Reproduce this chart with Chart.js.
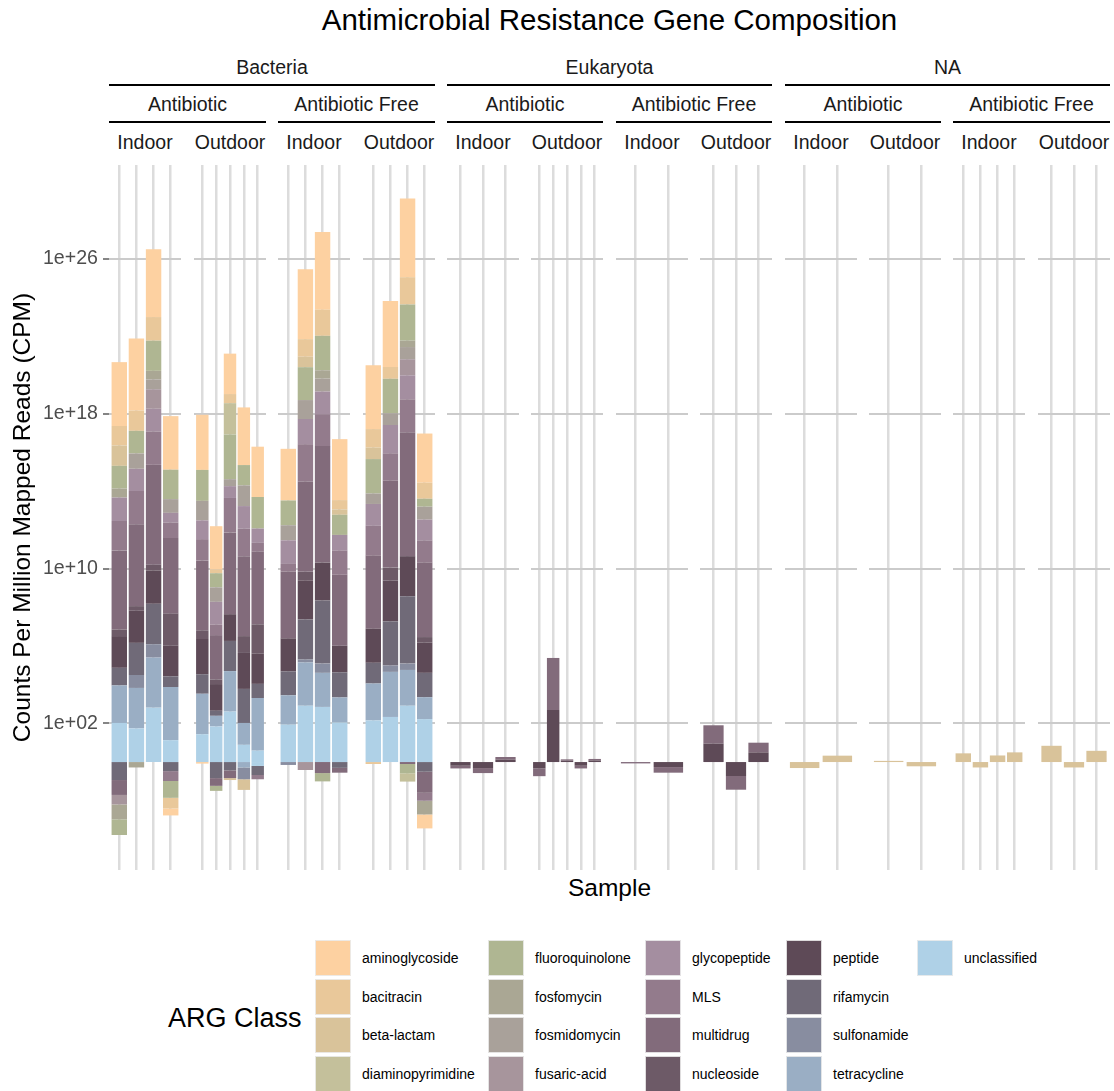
<!DOCTYPE html>
<html>
<head>
<meta charset="utf-8">
<script src="https://cdn.jsdelivr.net/npm/chart.js@4.4.1/dist/chart.umd.min.js"></script>
<style>
    body { margin: 0; background: #fff; font-family: "Liberation Sans", Arial, sans-serif; }
    #page { position: relative; width: 1114px; height: 1091px; overflow: hidden; background: #fff; }
    .txt { position: absolute; white-space: nowrap; text-align: center; }
    .strip { font-size: 19.5px; line-height: 19.5px; color: #1a1a1a; }
    .strip-line { position: absolute; height: 2px; background: #000; }
    #title { font-size: 29.5px; line-height: 29.5px; color: #000; }
    #xtitle { font-size: 24.5px; line-height: 24.5px; color: #000; }
    #legendTitle { position: absolute; left: 168px; top: 1005px; font-size: 27px; line-height: 27px; color: #000; }
    #legend { position: absolute; left: 315px; top: 940px; display: grid; grid-auto-flow: column;
              grid-template-rows: repeat(4, 38.6px); grid-template-columns: 173px 157px 141px 131px 150px; }
    .key { display: flex; align-items: center; height: 36px; }
    .swatch { width: 36px; height: 36px; box-sizing: border-box; border: 1px solid rgba(235, 235, 235, 0.9); }
    .key span { margin-left: 11px; font-size: 14px; color: #000; }
</style>
</head>
<body>
<div id="page">
    <div id="title" class="txt">Antimicrobial Resistance Gene Composition</div>
    <div id="xtitle" class="txt">Sample</div>
    <div id="legendTitle">ARG Class</div>
    <div id="legend"></div>
</div>
<script>
// ARG classes in legend order (first one sits on top of each stack)
const argClasses = ['aminoglycoside', 'bacitracin', 'beta-lactam', 'diaminopyrimidine', 'fluoroquinolone',
    'fosfomycin', 'fosmidomycin', 'fusaric-acid', 'glycopeptide', 'MLS', 'multidrug', 'nucleoside',
    'peptide', 'rifamycin', 'sulfonamide', 'tetracycline', 'unclassified'];
const classColors = ['#FDD1A1', '#E9C89A', '#D9C39A', '#C4C09B', '#AFB692',
    '#AAA794', '#A9A19A', '#A7959C', '#A48EA0', '#937B8C', '#826B7B', '#6D5A67',
    '#5E4A57', '#706A78', '#888DA0', '#9AAEC4', '#AFD1E7'];

// facet levels
const kingdoms = ['Bacteria', 'Eukaryota', 'NA'];
const treatments = ['Antibiotic', 'Antibiotic Free'];
const locations = ['Indoor', 'Outdoor'];

// which panel (0..11) each sample belongs to
const samplePanel = [0, 0, 0, 0, 1, 1, 1, 1, 1, 2, 2, 2, 2, 3, 3, 3, 3,
    4, 4, 4, 5, 5, 5, 5, 5, 6, 6, 7, 7, 7,
    8, 8, 9, 9, 10, 10, 10, 10, 11, 11, 11];

// y ticks (log10 CPM)
const yTickLogs = [2, 10, 18, 26];
const yTickLabels = ['1e+02', '1e+10', '1e+18', '1e+26'];

// log10(CPM) per sample and class, columns follow argClasses; values above 1 CPM
const posLog = [
    // Bacteria / Antibiotic / Indoor
    [3.30, 1.01, 1.05, 0, 1.17, 0.47, 0, 0, 1.21, 1.52, 4.09, 0.34, 1.64, 0.91, 0, 1.94, 2.02],
    [3.72, 1.05, 0, 0, 1.17, 0, 0.79, 0, 1.15, 1.72, 4.23, 0.24, 1.66, 1.66, 0.67, 2.09, 1.74],
    [3.50, 1.22, 0, 0, 1.56, 0.44, 0.51, 1.01, 1.17, 1.73, 5.16, 0.30, 1.72, 2.09, 0.69, 2.59, 2.81],
    [2.77, 0, 0, 0, 1.52, 0, 0.71, 0, 0.51, 0.79, 3.91, 1.66, 1.58, 0.55, 0, 2.75, 1.13],
    // Bacteria / Antibiotic / Outdoor
    [2.85, 0, 0, 0, 1.60, 0, 1.01, 0, 0.97, 1.11, 3.60, 0.45, 1.82, 1.01, 0, 2.09, 1.44],
    [2.23, 0.20, 0, 0, 0.73, 0, 0.75, 0, 1.17, 0.55, 2.29, 0.24, 1.38, 0.26, 0, 0.55, 1.84],
    [2.09, 0.47, 0, 1.62, 2.31, 0, 0.36, 0, 0.61, 1.78, 4.23, 0, 1.38, 1.56, 0, 2.09, 2.61],
    [2.98, 0, 0, 0, 1.05, 0, 1.07, 0, 1.17, 1.42, 4.13, 0.87, 1.86, 1.76, 0, 1.13, 0.89],
    [2.60, 0, 0, 0, 1.63, 0, 0, 0, 0.74, 0.45, 3.76, 1.52, 1.56, 0.73, 0, 2.72, 0.59],
    // Bacteria / Antibiotic Free / Indoor
    [2.67, 0, 0, 0, 1.28, 0, 0.78, 0, 1.22, 0.39, 3.46, 0, 1.70, 1.24, 0, 1.52, 1.93],
    [3.61, 0.91, 0.54, 0, 1.70, 0, 0.98, 0, 1.30, 1.93, 4.67, 0.46, 2.00, 2.07, 0.15, 2.24, 2.91],
    [4.02, 1.35, 0, 0, 1.78, 0.43, 0.67, 0, 1.17, 1.65, 6.02, 0, 1.96, 3.26, 0.48, 1.76, 2.85],
    [3.15, 0.48, 0.28, 0, 1.04, 0, 0, 0, 0.80, 1.26, 3.67, 0, 1.37, 1.30, 0, 1.30, 2.04],
    // Bacteria / Antibiotic Free / Outdoor
    [3.30, 0.96, 0.59, 0, 1.78, 0, 0.54, 0, 1.13, 1.54, 3.78, 0, 1.76, 1.07, 0, 1.91, 2.15],
    [3.41, 0.61, 0, 0, 1.78, 0, 0.61, 0, 1.46, 1.41, 4.50, 0.67, 2.11, 2.28, 0.33, 2.33, 2.33],
    [4.07, 1.41, 0, 0, 1.87, 0.33, 0.63, 0.83, 1.24, 1.70, 6.41, 0, 2.07, 3.48, 0.33, 1.85, 2.91],
    [2.54, 0.83, 0, 0, 0.41, 0, 0.67, 0, 1.07, 1.15, 3.85, 0.28, 1.57, 1.26, 0, 1.13, 2.22],
    // Eukaryota / Antibiotic / Indoor
    [0, 0, 0, 0, 0, 0, 0, 0, 0, 0, 0, 0, 0, 0, 0, 0, 0],
    [0, 0, 0, 0, 0, 0, 0, 0, 0, 0, 0, 0, 0, 0, 0, 0, 0],
    [0, 0, 0, 0, 0, 0, 0, 0, 0, 0, 0.14, 0, 0.12, 0, 0, 0, 0],
    // Eukaryota / Antibiotic / Outdoor
    [0, 0, 0, 0, 0, 0, 0, 0, 0, 0, 0, 0, 0, 0, 0, 0, 0],
    [0, 0, 0, 0, 0, 0, 0, 0, 0, 0, 2.69, 0, 2.69, 0, 0, 0, 0],
    [0, 0, 0, 0, 0, 0, 0, 0, 0, 0, 0.07, 0, 0.07, 0, 0, 0, 0],
    [0, 0, 0, 0, 0, 0, 0, 0, 0, 0, 0, 0, 0, 0, 0, 0, 0],
    [0, 0, 0, 0, 0, 0, 0, 0, 0, 0, 0.08, 0, 0.08, 0, 0, 0, 0],
    // Eukaryota / Antibiotic Free / Indoor
    [0, 0, 0, 0, 0, 0, 0, 0, 0, 0, 0, 0, 0, 0, 0, 0, 0],
    [0, 0, 0, 0, 0, 0, 0, 0, 0, 0, 0, 0, 0, 0, 0, 0, 0],
    // Eukaryota / Antibiotic Free / Outdoor
    [0, 0, 0, 0, 0, 0, 0, 0, 0, 0, 0.95, 0, 0.95, 0, 0, 0, 0],
    [0, 0, 0, 0, 0, 0, 0, 0, 0, 0, 0, 0, 0, 0, 0, 0, 0],
    [0, 0, 0, 0, 0, 0, 0, 0, 0, 0, 0.50, 0, 0.50, 0, 0, 0, 0],
    // NA / Antibiotic / Indoor
    [0, 0, 0, 0, 0, 0, 0, 0, 0, 0, 0, 0, 0, 0, 0, 0, 0],
    [0, 0, 0.33, 0, 0, 0, 0, 0, 0, 0, 0, 0, 0, 0, 0, 0, 0],
    // NA / Antibiotic / Outdoor
    [0, 0, 0.06, 0, 0, 0, 0, 0, 0, 0, 0, 0, 0, 0, 0, 0, 0],
    [0, 0, 0, 0, 0, 0, 0, 0, 0, 0, 0, 0, 0, 0, 0, 0, 0],
    // NA / Antibiotic Free / Indoor
    [0, 0, 0.45, 0, 0, 0, 0, 0, 0, 0, 0, 0, 0, 0, 0, 0, 0],
    [0, 0, 0, 0, 0, 0, 0, 0, 0, 0, 0, 0, 0, 0, 0, 0, 0],
    [0, 0, 0.34, 0, 0, 0, 0, 0, 0, 0, 0, 0, 0, 0, 0, 0, 0],
    [0, 0, 0.50, 0, 0, 0, 0, 0, 0, 0, 0, 0, 0, 0, 0, 0, 0],
    // NA / Antibiotic Free / Outdoor
    [0, 0, 0.84, 0, 0, 0, 0, 0, 0, 0, 0, 0, 0, 0, 0, 0, 0],
    [0, 0, 0, 0, 0, 0, 0, 0, 0, 0, 0, 0, 0, 0, 0, 0, 0],
    [0, 0, 0.58, 0, 0, 0, 0, 0, 0, 0, 0, 0, 0, 0, 0, 0, 0],
];

// log10(CPM) below 1 CPM (negative stack), same layout
const negLog = [
    // Bacteria / Antibiotic / Indoor
    [0, 0, 0, 0, -0.81, -0.77, 0, -0.49, 0, 0, -0.77, 0, 0, -0.93, 0, 0, 0],
    [0, 0, 0, 0, 0, -0.28, 0, 0, 0, 0, 0, 0, 0, 0, 0, 0, 0],
    [0, 0, 0, 0, 0, 0, 0, 0, 0, 0, 0, 0, 0, 0, 0, 0, 0],
    [-0.36, -0.55, 0, 0, -0.87, 0, 0, 0, 0, -0.51, 0, 0, 0, -0.47, 0, 0, 0],
    // Bacteria / Antibiotic / Outdoor
    [-0.08, 0, 0, 0, 0, 0, 0, 0, 0, 0, 0, 0, 0, 0, 0, 0, 0],
    [0, 0, 0, 0, -0.26, 0, 0, 0, 0, 0, -0.40, 0, 0, -0.83, 0, 0, 0],
    [0, 0, -0.10, 0, 0, 0, 0, 0, 0, 0, -0.40, 0, 0, -0.43, 0, 0, 0],
    [0, 0, -0.55, 0, 0, 0, 0, 0, 0, 0, 0, 0, 0, 0, -0.61, -0.28, 0],
    [0, 0, 0, 0, 0, 0, 0, 0, 0, -0.22, 0, 0, 0, -0.47, 0, 0, -0.20],
    // Bacteria / Antibiotic Free / Indoor
    [0, 0, 0, 0, 0, 0, 0, 0, 0, 0, 0, 0, 0, 0, -0.15, 0, 0],
    [0, 0, 0, 0, 0, 0, 0, -0.41, 0, 0, 0, 0, 0, 0, 0, 0, 0],
    [0, 0, 0, 0, -0.43, 0, 0, 0, 0, 0, -0.57, 0, 0, 0, 0, 0, 0],
    [0, 0, 0, 0, 0, 0, 0, 0, 0, 0, -0.25, 0, 0, -0.30, 0, 0, 0],
    // Bacteria / Antibiotic Free / Outdoor
    [0, -0.10, 0, 0, 0, 0, 0, 0, 0, 0, 0, 0, 0, 0, 0, 0, 0],
    [0, 0, 0, 0, 0, 0, 0, 0, 0, 0, 0, 0, 0, 0, 0, 0, 0],
    [0, 0, 0, -0.43, -0.48, 0, 0, 0, 0, 0, -0.10, 0, 0, 0, 0, 0, 0],
    [-0.72, 0, 0, 0, 0, -0.71, 0, 0, 0, -0.41, -1.09, 0, 0, -0.50, 0, 0, 0],
    // Eukaryota / Antibiotic / Indoor
    [0, 0, 0, 0, 0, 0, 0, 0, 0, 0, -0.14, 0, -0.19, 0, 0, 0, 0],
    [0, 0, 0, 0, 0, 0, 0, 0, 0, 0, -0.26, 0, -0.31, 0, 0, 0, 0],
    [0, 0, 0, 0, 0, 0, 0, 0, 0, 0, 0, 0, 0, 0, 0, 0, 0],
    // Eukaryota / Antibiotic / Outdoor
    [0, 0, 0, 0, 0, 0, 0, 0, 0, 0, -0.40, 0, -0.33, 0, 0, 0, 0],
    [0, 0, 0, 0, 0, 0, 0, 0, 0, 0, 0, 0, 0, 0, 0, 0, 0],
    [0, 0, 0, 0, 0, 0, 0, 0, 0, 0, 0, 0, 0, 0, 0, 0, 0],
    [0, 0, 0, 0, 0, 0, 0, 0, 0, 0, -0.14, 0, -0.19, 0, 0, 0, 0],
    [0, 0, 0, 0, 0, 0, 0, 0, 0, 0, 0, 0, 0, 0, 0, 0, 0],
    // Eukaryota / Antibiotic Free / Indoor
    [0, 0, 0, 0, 0, 0, 0, 0, 0, 0, -0.07, 0, 0, 0, 0, 0, 0],
    [0, 0, 0, 0, 0, 0, 0, 0, 0, 0, -0.29, 0, -0.26, 0, 0, 0, 0],
    // Eukaryota / Antibiotic Free / Outdoor
    [0, 0, 0, 0, 0, 0, 0, 0, 0, 0, 0, 0, 0, 0, 0, 0, 0],
    [0, 0, 0, 0, 0, 0, 0, 0, 0, 0, -0.71, 0, -0.72, 0, 0, 0, 0],
    [0, 0, 0, 0, 0, 0, 0, 0, 0, 0, 0, 0, 0, 0, 0, 0, 0],
    // NA / Antibiotic / Indoor
    [0, 0, -0.31, 0, 0, 0, 0, 0, 0, 0, 0, 0, 0, 0, 0, 0, 0],
    [0, 0, 0, 0, 0, 0, 0, 0, 0, 0, 0, 0, 0, 0, 0, 0, 0],
    // NA / Antibiotic / Outdoor
    [0, 0, 0, 0, 0, 0, 0, 0, 0, 0, 0, 0, 0, 0, 0, 0, 0],
    [0, 0, -0.22, 0, 0, 0, 0, 0, 0, 0, 0, 0, 0, 0, 0, 0, 0],
    // NA / Antibiotic Free / Indoor
    [0, 0, 0, 0, 0, 0, 0, 0, 0, 0, 0, 0, 0, 0, 0, 0, 0],
    [0, 0, -0.28, 0, 0, 0, 0, 0, 0, 0, 0, 0, 0, 0, 0, 0, 0],
    [0, 0, 0, 0, 0, 0, 0, 0, 0, 0, 0, 0, 0, 0, 0, 0, 0],
    [0, 0, 0, 0, 0, 0, 0, 0, 0, 0, 0, 0, 0, 0, 0, 0, 0],
    // NA / Antibiotic Free / Outdoor
    [0, 0, 0, 0, 0, 0, 0, 0, 0, 0, 0, 0, 0, 0, 0, 0, 0],
    [0, 0, -0.28, 0, 0, 0, 0, 0, 0, 0, 0, 0, 0, 0, 0, 0, 0],
    [0, 0, 0, 0, 0, 0, 0, 0, 0, 0, 0, 0, 0, 0, 0, 0, 0],
];

// layout
const panelWidth = 72;
const panelTop = 165;
const panelHeight = 705;
const axisWidth = 109;
const yMin = -5.58, yMax = 30.86;
const panelLeft = [];
for (let i = 0; i < 12; i++) panelLeft.push(Math.round(109.3 + i * 84.4));

Chart.defaults.font.family = '"Liberation Sans", Arial, sans-serif';

const page = document.getElementById('page');

function addText(cls, text, left, width, top) {
    const el = document.createElement('div');
    el.className = 'txt ' + cls;
    el.textContent = text;
    el.style.left = left + 'px';
    el.style.width = width + 'px';
    el.style.top = top + 'px';
    page.appendChild(el);
}

function addLine(left, width, top) {
    const el = document.createElement('div');
    el.className = 'strip-line';
    el.style.left = left + 'px';
    el.style.width = width + 'px';
    el.style.top = top + 'px';
    page.appendChild(el);
}

function panelChart(target, p, withAxis) {
    const rows = [];
    samplePanel.forEach((sp, r) => { if (sp === p) rows.push(r); });

    const datasets = [];
    // unclassified first so it sits next to 1e+00
    for (let c = argClasses.length - 1; c >= 0; c--) {
        [posLog, negLog].forEach(table => {
            datasets.push({
                label: argClasses[c],
                data: rows.map((r, i) => ({ x: i, y: table[r][c] || null })),
                backgroundColor: classColors[c],
                borderWidth: 0,
                barPercentage: 0.9,
                categoryPercentage: 1,
            });
        });
    }

    return new Chart(target, {
        type: 'bar',
        data: { datasets: datasets },
        options: {
            responsive: false,
            animation: false,
            layout: { padding: 0 },
            plugins: { legend: { display: false }, tooltip: { enabled: false } },
            scales: {
                x: {
                    type: 'linear',
                    stacked: true,
                    offset: false,
                    min: -0.6,
                    max: rows.length - 0.4,
                    afterBuildTicks: s => { s.ticks = rows.map((r, i) => ({ value: i })); },
                    ticks: { display: false },
                    border: { display: false },
                    grid: { offset: false, color: '#dcdcdc', lineWidth: 2.5, drawTicks: false },
                },
                y: {
                    type: 'linear',
                    stacked: true,
                    min: yMin,
                    max: yMax,
                    afterBuildTicks: s => { s.ticks = yTickLogs.map(v => ({ value: v })); },
                    afterFit: s => {
                        if (withAxis) s.width = axisWidth;
                        s.paddingTop = 0;
                        s.paddingBottom = 0;
                    },
                    ticks: {
                        display: withAxis,
                        padding: 5,
                        color: '#4d4d4d',
                        font: { size: 19.6 },
                        callback: v => yTickLabels[yTickLogs.indexOf(v)],
                    },
                    border: { display: false },
                    grid: {
                        color: '#cbcbcb', lineWidth: 2,
                        drawTicks: withAxis, tickLength: 6, tickColor: '#333', tickWidth: 1.2,
                    },
                    title: {
                        display: withAxis,
                        text: 'Counts Per Million Mapped Reads (CPM)',
                        color: '#000',
                        font: { size: 24.5, lineHeight: 1.2 },
                        padding: { top: 9, bottom: 0 },
                    },
                },
            },
        },
    });
}

// panels
for (let p = 0; p < 12; p++) {
    const withAxis = p === 0;
    const left = withAxis ? 0 : panelLeft[p];
    const width = withAxis ? panelLeft[p] + panelWidth : panelWidth;
    const canvas = document.createElement('canvas');
    canvas.width = width;
    canvas.height = panelHeight;
    canvas.style.cssText = `position:absolute;left:${left}px;top:${panelTop}px;width:${width}px;height:${panelHeight}px`;
    page.appendChild(canvas);
    panelChart(canvas, p, withAxis);
}

// nested strips
kingdoms.forEach((k, ki) => {
    const l = panelLeft[ki * 4], r = panelLeft[ki * 4 + 3] + panelWidth;
    addText('strip', k, l, r - l, 58.4);
    addLine(l, r - l, 83.5);
});
for (let j = 0; j < kingdoms.length * treatments.length; j++) {
    const l = panelLeft[j * 2], r = panelLeft[j * 2 + 1] + panelWidth;
    addText('strip', treatments[j % 2], l, r - l, 95.4);
    addLine(l, r - l, 121);
}
for (let p = 0; p < 12; p++) {
    addText('strip', locations[p % 2], panelLeft[p] - 6, panelWidth + 12, 133.4);
}

// titles
const plotLeft = panelLeft[0], plotRight = panelLeft[11] + panelWidth;
const title = document.getElementById('title');
title.style.left = plotLeft + 'px'; title.style.width = (plotRight - plotLeft) + 'px'; title.style.top = '5px';
const xtitle = document.getElementById('xtitle');
xtitle.style.left = plotLeft + 'px'; xtitle.style.width = (plotRight - plotLeft) + 'px'; xtitle.style.top = '876px';

// legend, filled column by column
let legendHtml = '';
argClasses.forEach((c, i) => {
    legendHtml += `<div class="key"><div class="swatch" style="background:${classColors[i]}"></div><span>${c}</span></div>`;
});
document.getElementById('legend').innerHTML = legendHtml;
</script>
</body>
</html>
